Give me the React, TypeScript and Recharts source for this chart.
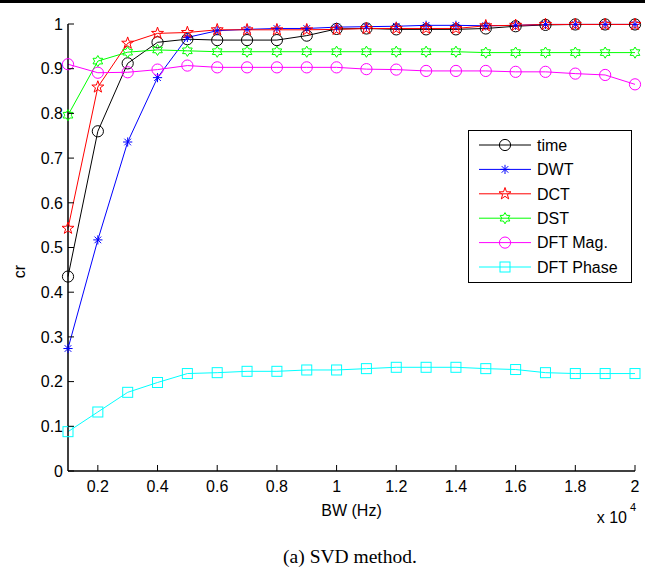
import { LineChart, Line, XAxis, YAxis, Legend } from 'recharts'

const bw = [1000, 2000, 3000, 4000, 5000, 6000, 7000, 8000, 9000, 10000, 11000, 12000, 13000, 14000, 15000, 16000, 17000, 18000, 19000, 20000]

const timeCr = [0.435, 0.76, 0.912, 0.959, 0.966, 0.964, 0.964, 0.964, 0.974, 0.989, 0.99, 0.988, 0.988, 0.988, 0.99, 0.995, 0.998, 0.999, 0.999, 0.999]
const dwtCr = [0.274, 0.517, 0.736, 0.88, 0.97, 0.985, 0.988, 0.99, 0.99, 0.993, 0.994, 0.995, 0.997, 0.997, 0.996, 0.997, 0.999, 0.999, 0.999, 0.999]
const dctCr = [0.543, 0.859, 0.957, 0.979, 0.981, 0.987, 0.987, 0.987, 0.987, 0.988, 0.99, 0.99, 0.99, 0.99, 0.996, 0.997, 0.999, 0.999, 0.999, 0.999]
const dstCr = [0.796, 0.917, 0.937, 0.942, 0.94, 0.938, 0.938, 0.938, 0.938, 0.938, 0.938, 0.938, 0.938, 0.938, 0.936, 0.936, 0.936, 0.936, 0.936, 0.936]
const dftMagCr = [0.91, 0.891, 0.892, 0.898, 0.907, 0.903, 0.903, 0.903, 0.903, 0.903, 0.899, 0.898, 0.895, 0.895, 0.895, 0.893, 0.893, 0.889, 0.886, 0.865]
const dftPhaseCr = [0.088, 0.132, 0.176, 0.198, 0.218, 0.22, 0.223, 0.223, 0.226, 0.226, 0.229, 0.232, 0.232, 0.232, 0.229, 0.227, 0.22, 0.218, 0.218, 0.218]

const xTicks = [2000, 4000, 6000, 8000, 10000, 12000, 14000, 16000, 18000, 20000]
const xTickLabels = ['0.2', '0.4', '0.6', '0.8', '1', '1.2', '1.4', '1.6', '1.8', '2']
const yTicks = [0, 0.1, 0.2, 0.3, 0.4, 0.5, 0.6, 0.7, 0.8, 0.9, 1]
const yTickLabels = ['0', '0.1', '0.2', '0.3', '0.4', '0.5', '0.6', '0.7', '0.8', '0.9', '1']

const series = [
  { key: 'time', name: 'time', color: '#000000', marker: 'circle' },
  { key: 'dwt', name: 'DWT', color: '#0000ff', marker: 'asterisk' },
  { key: 'dct', name: 'DCT', color: '#ff0000', marker: 'pentagram' },
  { key: 'dst', name: 'DST', color: '#00ff00', marker: 'hexagram' },
  { key: 'dftMag', name: 'DFT Mag.', color: '#ff00ff', marker: 'circle' },
  { key: 'dftPhase', name: 'DFT Phase', color: '#00ffff', marker: 'square' },
]

const chartData = bw.map((b, i) => ({
  bw: b,
  time: timeCr[i],
  dwt: dwtCr[i],
  dct: dctCr[i],
  dst: dstCr[i],
  dftMag: dftMagCr[i],
  dftPhase: dftPhaseCr[i],
}))

const FONT = '"Liberation Sans", Arial, Helvetica, sans-serif'

function starPath(cx: number, cy: number, n: number, ro: number, ri: number) {
  let d = ''
  for (let k = 0; k < 2 * n; k++) {
    const r = k % 2 === 0 ? ro : ri
    const a = -Math.PI / 2 + (k * Math.PI) / n
    d += (k ? 'L' : 'M') + (cx + r * Math.cos(a)).toFixed(2) + ',' + (cy + r * Math.sin(a)).toFixed(2)
  }
  return d + 'Z'
}

function Marker({ kind, cx, cy, color }: any) {
  if (cx == null || cy == null) return null
  const common = { fill: 'none', stroke: color, strokeWidth: 1 }
  switch (kind) {
    case 'circle':
      return <circle cx={cx} cy={cy} r={5.6} {...common} />
    case 'square':
      return <rect x={cx - 5} y={cy - 5} width={10} height={10} {...common} />
    case 'pentagram':
      return <path d={starPath(cx, cy, 5, 6.3, 2.5)} {...common} />
    case 'hexagram':
      return <path d={starPath(cx, cy, 6, 5.6, 3.25)} {...common} />
    case 'asterisk': {
      const r = 4.6
      const q = r * 0.72
      return (
        <g stroke={color} strokeWidth={1}>
          <line x1={cx - r} x2={cx + r} y1={cy} y2={cy} />
          <line x1={cx} x2={cx} y1={cy - r} y2={cy + r} />
          <line x1={cx - q} x2={cx + q} y1={cy - q} y2={cy + q} />
          <line x1={cx - q} x2={cx + q} y1={cy + q} y2={cy - q} />
        </g>
      )
    }
    default:
      return null
  }
}

function LeftTick({ x, y, payload }: any) {
  const i = yTicks.indexOf(payload.value)
  return (
    <g>
      <line x1={x} x2={x + 6} y1={y} y2={y} stroke="#000" />
      <text x={x - 5} y={y} dy="0.36em" textAnchor="end" fontSize={16} fontFamily={FONT} fill="#000">
        {yTickLabels[i]}
      </text>
    </g>
  )
}

function RightTick({ x, y }: any) {
  return <line x1={x} x2={x - 6} y1={y} y2={y} stroke="#000" />
}

function BottomTick({ x, y, payload }: any) {
  const i = xTicks.indexOf(payload.value)
  return (
    <g>
      <line x1={x} x2={x} y1={y} y2={y - 6} stroke="#000" />
      <text x={x} y={y + 21} textAnchor="middle" fontSize={16} fontFamily={FONT} fill="#000">
        {xTickLabels[i]}
      </text>
    </g>
  )
}

function TopTick({ x, y }: any) {
  return <line x1={x} x2={x} y1={y} y2={y + 6} stroke="#000" />
}

function BottomLabels({ viewBox }: any) {
  const { x, y, width } = viewBox
  return (
    <g fill="#000">
      <text x={x + width / 2} y={y + 44.5} textAnchor="middle" fontSize={16} fontFamily={FONT}>
        BW (Hz)
      </text>
      <text x={x + width - 8} y={y + 51.5} textAnchor="end" fontSize={16} fontFamily={FONT}>
        x 10
      </text>
      <text x={x + width - 5} y={y + 40} fontSize={11} fontFamily={FONT}>
        4
      </text>
      <text
        x={x + width / 2 - 1.5}
        y={y + 92}
        textAnchor="middle"
        fontSize={19.5}
        fontFamily='"Liberation Serif", "Times New Roman", serif'
      >
        (a) SVD method.
      </text>
    </g>
  )
}

function LeftLabel({ viewBox }: any) {
  const { x, y, height } = viewBox
  return (
    <text
      x={x + 25}
      y={y + height / 2 + 24}
      transform={`rotate(-90 ${x + 25} ${y + height / 2 + 24})`}
      textAnchor="middle"
      fontSize={16}
      fontFamily={FONT}
      fill="#000"
    >
      cr
    </text>
  )
}

function LegendBox() {
  return (
    <div
      style={{
        width: 164,
        height: 153,
        border: '1.5px solid #000',
        background: '#fff',
        boxSizing: 'border-box',
      }}
    >
      <svg width={161} height={150} style={{ display: 'block' }}>
        {series.map((s, i) => {
          const cy = 14 + i * 24.4
          return (
            <g key={s.key}>
              <line x1={10} x2={62} y1={cy} y2={cy} stroke={s.color} strokeWidth={1} />
              <Marker kind={s.marker} cx={36} cy={cy} color={s.color} />
              <text x={68} y={cy} dy="0.36em" fontSize={16} fontFamily={FONT} fill="#000">
                {s.name}
              </text>
            </g>
          )
        })}
      </svg>
    </div>
  )
}

export default function App() {
  return (
    <div style={{ position: 'absolute', left: 0, top: 0, width: 651, height: 572, background: '#fff' }}>
      <div style={{ position: 'absolute', left: 0, top: 0, width: 645, height: 3, background: '#000' }} />
      <LineChart
        width={651}
        height={572}
        data={chartData}
        margin={{ top: 24, right: 16, bottom: 0, left: 0 }}
      >
        <XAxis
          xAxisId="bottom"
          dataKey="bw"
          type="number"
          domain={[1000, 20000]}
          ticks={xTicks}
          tick={<BottomTick />}
          tickLine={false}
          tickSize={0}
          tickMargin={0}
          height={101}
          axisLine={{ stroke: '#000', strokeWidth: 1.5 }}
          interval={0}
          label={(p: any) => <BottomLabels {...p} />}
        />
        <XAxis
          xAxisId="top"
          orientation="top"
          dataKey="bw"
          type="number"
          domain={[1000, 20000]}
          ticks={xTicks}
          tick={<TopTick />}
          tickLine={false}
          tickSize={0}
          height={0}
          axisLine={{ stroke: '#000', strokeWidth: 1.5 }}
          interval={0}
        />
        <YAxis
          yAxisId="left"
          type="number"
          domain={[0, 1]}
          ticks={yTicks}
          tick={<LeftTick />}
          tickLine={false}
          tickSize={0}
          tickMargin={0}
          width={68}
          axisLine={{ stroke: '#000', strokeWidth: 1.5 }}
          interval={0}
          label={(p: any) => <LeftLabel {...p} />}
        />
        <YAxis
          yAxisId="right"
          orientation="right"
          type="number"
          domain={[0, 1]}
          ticks={yTicks}
          tick={<RightTick />}
          tickLine={false}
          tickSize={0}
          width={0}
          axisLine={{ stroke: '#000', strokeWidth: 1.5 }}
          interval={0}
        />
        <Legend
          layout="vertical"
          align="center"
          verticalAlign="middle"
          wrapperStyle={{ left: 468, top: 130, width: 164, height: 153 }}
          content={() => <LegendBox />}
        />
        {series.map((s) => (
          <Line
            key={s.key}
            xAxisId="bottom"
            yAxisId="left"
            type="linear"
            dataKey={s.key}
            name={s.name}
            stroke={s.color}
            strokeWidth={1}
            isAnimationActive={false}
            activeDot={false}
            dot={(p: any) => (
              <Marker key={`${s.key}-${p.index}`} kind={s.marker} cx={p.cx} cy={p.cy} color={s.color} />
            )}
          />
        ))}
      </LineChart>
    </div>
  )
}
